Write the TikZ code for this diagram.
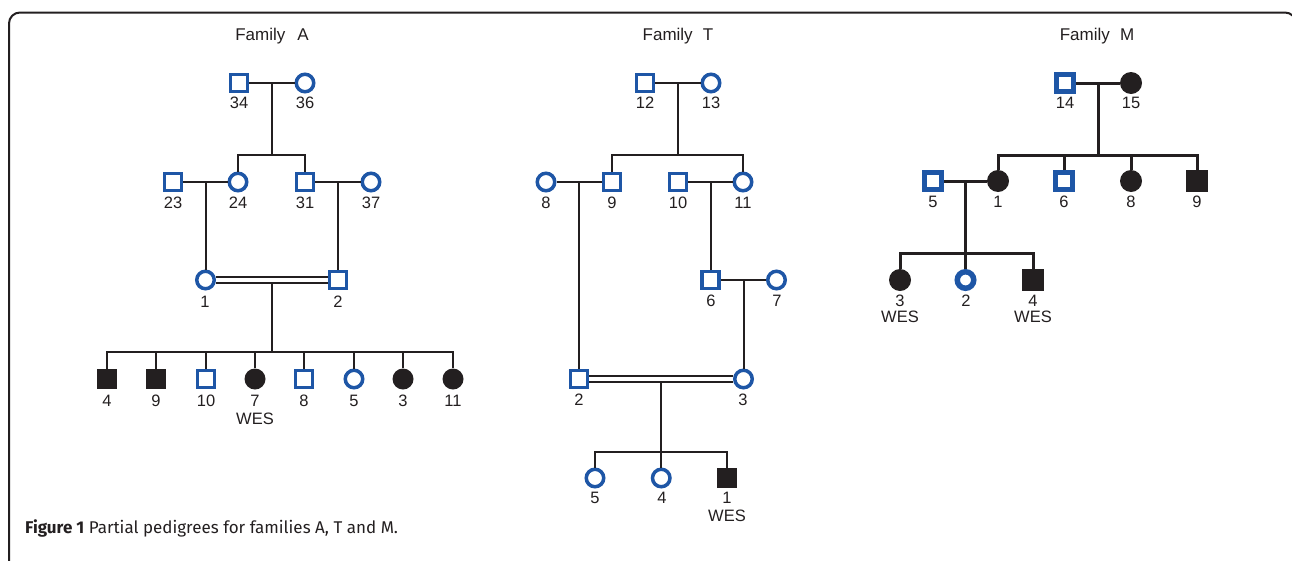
\documentclass[tikz,border=0pt]{standalone}
\usepackage{fontspec}
\setmainfont{Liberation Sans}
\newfontfamily\capfont{Fira Sans}
\usetikzlibrary{calc}
\definecolor{pblue}{RGB}{30,86,166}
\definecolor{pblack}{RGB}{35,31,32}
\begin{document}
\begin{tikzpicture}[x=1pt,y=-1pt,
 msq/.style={rectangle,draw=pblue,line width=3.5pt,minimum size=17pt,inner sep=0pt,fill=white},
 mci/.style={circle,draw=pblue,line width=3.5pt,minimum size=17.5pt,inner sep=0pt,fill=white},
 fsq/.style={rectangle,fill=pblack,minimum size=20.5pt,inner sep=0pt},
 fci/.style={circle,fill=pblack,minimum size=21pt,inner sep=0pt},
 Msq/.style={rectangle,draw=pblue,line width=5pt,minimum size=17pt,inner sep=0pt,fill=white},
 Mci/.style={circle,draw=pblue,line width=5.5pt,minimum size=16.5pt,inner sep=0pt,fill=white},
 Mfsq/.style={rectangle,fill=pblack,minimum size=21.5pt,inner sep=0pt},
 Mfci/.style={circle,fill=pblack,minimum size=22pt,inner sep=0pt},
 lab/.style={font=\fontsize{16.5}{18}\selectfont,text=pblack,inner sep=0pt},
 ttl/.style={font=\fontsize{17}{19}\selectfont,text=pblack,inner sep=0pt},
 con/.style={draw=pblack,line width=2pt},
 Mcon/.style={draw=pblack,line width=3pt},
 dbl/.style={draw=pblack,line width=2pt,double=white,double distance=4pt},
 frame/.style={draw=pblack,line width=2pt,rounded corners=11pt},
]
\useasboundingbox (0,0) rectangle (1292,560);
\clip (0,0) rectangle (1292,560);
\draw[frame] (9,12.5) rectangle (1296,620);

% ---------------- Family A ----------------
\node[ttl] (tA) at (272,36) {Family\hspace{0.7em}A};
\node[msq] (A34) at (239,83) {};
\node[mci] (A36) at (305,83) {};
\node[msq] (A23) at (173,182) {};
\node[mci] (A24) at (238,182) {};
\node[msq] (A31) at (305,182) {};
\node[mci] (A37) at (371,182) {};
\node[mci] (A1) at (205.5,280) {};
\node[msq] (A2) at (338,280) {};
\node[fsq] (A4) at (107,379) {};
\node[fsq] (A9) at (156,379) {};
\node[msq] (A10) at (206,379) {};
\node[fci] (A7) at (255,379) {};
\node[msq] (A8) at (304,379) {};
\node[mci] (A5) at (354,379) {};
\node[fci] (A3) at (403,379) {};
\node[fci] (A11) at (453,379) {};

\node[lab] (lA34) at (239,103) {34};
\node[lab] (lA36) at (305,103) {36};
\node[lab] (lA23) at (173,203) {23};
\node[lab] (lA24) at (238,203) {24};
\node[lab] (lA31) at (305,203) {31};
\node[lab] (lA37) at (371,203) {37};
\node[lab] (lA1) at (205,302) {1};
\node[lab] (lA2) at (338,302) {2};
\node[lab] (lA4) at (107,401) {4};
\node[lab] (lA9) at (156,401) {9};
\node[lab] (lA10) at (206,401) {10};
\node[lab] (lA7) at (255,401) {7};
\node[lab] (lA8) at (304,401) {8};
\node[lab] (lA5) at (354,401) {5};
\node[lab] (lA3) at (403,401) {3};
\node[lab] (lA11) at (453,401) {11};
\node[lab] (wA7) at (255,419) {WES};

\coordinate (mA1) at ($(A34)!0.5!(A36)$);
\coordinate (sA1) at ($(mA1)+(0,72)$);
\coordinate (mA2) at ($(A23)!0.5!(A24)$);
\coordinate (mA3) at ($(A31)!0.5!(A37)$);
\coordinate (mA4) at ($(A1)!0.5!(A2)+(0,3)$);
\coordinate (sA2) at ($(mA4)+(0,69)$);

\draw[con] (A34) -- (A36);
\draw[con] (mA1) -- (sA1);
\draw[con] (A24) |- (sA1) -| (A31);
\draw[con] (A23) -- (A24);
\draw[con] (A31) -- (A37);
\draw[con] (mA2) -- (mA2 |- A1.north);
\draw[con] (mA3) -- (mA3 |- A2.north);
\draw[dbl] (A1) -- (A2);
\draw[con] (mA4) -- (sA2);
\draw[con] (A4) |- (sA2) -| (A11);
\foreach \c in {A9,A10,A7,A8,A5,A3} \draw[con] (\c) -- (\c |- sA2);

% ---------------- Family T ----------------
\node[ttl] (tT) at (678,36) {Family\hspace{0.6em}T};
\node[msq] (T12) at (645,83) {};
\node[mci] (T13) at (711,83) {};
\node[mci] (T8) at (546,182) {};
\node[msq] (T9) at (612,182) {};
\node[msq] (T10) at (678,182) {};
\node[mci] (T11) at (743,182) {};
\node[msq] (T6) at (710.5,280) {};
\node[mci] (T7) at (776.5,280) {};
\node[msq] (T2) at (579,379) {};
\node[mci] (T3) at (743.5,379) {};
\node[mci] (T5) at (595,478) {};
\node[mci] (T4) at (661.25,478) {};
\node[fsq] (T1) at (727,478) {};

\node[lab] (lT12) at (645,103) {12};
\node[lab] (lT13) at (711,103) {13};
\node[lab] (lT8) at (546,203) {8};
\node[lab] (lT9) at (612,203) {9};
\node[lab] (lT10) at (678,203) {10};
\node[lab] (lT11) at (743,203) {11};
\node[lab] (lT6) at (711,301) {6};
\node[lab] (lT7) at (777,301) {7};
\node[lab] (lT2) at (579,400) {2};
\node[lab] (lT3) at (743,400) {3};
\node[lab] (lT5) at (595,498) {5};
\node[lab] (lT4) at (662,498) {4};
\node[lab] (lT1) at (727,498) {1};
\node[lab] (wT1) at (727,516) {WES};

\coordinate (mT1) at ($(T12)!0.5!(T13)$);
\coordinate (sT1) at ($(mT1)+(0,72)$);
\coordinate (mT2) at ($(T8)!0.5!(T9)$);
\coordinate (mT3) at ($(T10)!0.5!(T11)$);
\coordinate (mT4) at ($(T6)!0.5!(T7)$);
\coordinate (mT5) at ($(T2)!0.5!(T3)+(0,3)$);
\coordinate (sT2) at ($(mT5)+(0,70)$);

\draw[con] (T12) -- (T13);
\draw[con] (mT1) -- (sT1);
\draw[con] (T9) |- (sT1) -| (T11);
\draw[con] (T8) -- (T9);
\draw[con] (T10) -- (T11);
\draw[con] (mT2) -- (mT2 |- T2.north);
\draw[con] (mT3) -- (mT3 |- T6.north);
\draw[con] (T6) -- (T7);
\draw[con] (mT4) -- (mT4 |- T3.north);
\draw[dbl] (T2) -- (T3);
\draw[con] (mT5) -- (sT2);
\draw[con] (T5) |- (sT2) -| (T1);
\draw[con] (T4) -- (T4 |- sT2);

% ---------------- Family M ----------------
\node[ttl] (tM) at (1097,36) {Family\hspace{0.6em}M};
\node[Msq] (M14) at (1065,83) {};
\node[Mfci] (M15) at (1131,83) {};
\node[Msq] (M5) at (933,181) {};
\node[Mfci] (M1) at (998,181) {};
\node[Msq] (M6) at (1064,181) {};
\node[Mfci] (M8) at (1131,181) {};
\node[Mfsq] (M9) at (1197,181) {};
\node[Mfci] (M3) at (900,280) {};
\node[Mci] (M2) at (965.5,280) {};
\node[Mfsq] (M4) at (1033,280) {};

\node[lab] (lM14) at (1065,103) {14};
\node[lab] (lM15) at (1131,103) {15};
\node[lab] (lM5) at (933,202) {5};
\node[lab] (lM1) at (998,202) {1};
\node[lab] (lM6) at (1064,202) {6};
\node[lab] (lM8) at (1131,202) {8};
\node[lab] (lM9) at (1197,202) {9};
\node[lab] (lM3) at (900,301) {3};
\node[lab] (lM2) at (966,301) {2};
\node[lab] (lM4) at (1033,301) {4};
\node[lab] (wM3) at (900,317) {WES};
\node[lab] (wM4) at (1033,317) {WES};

\coordinate (mM1) at ($(M14)!0.5!(M15)$);
\coordinate (sM1) at ($(mM1)+(0,72)$);
\coordinate (mM2) at ($(M5)!0.5!(M1)$);
\coordinate (sM2) at ($(mM2)+(0,72)$);

\draw[Mcon] (M14) -- (M15);
\draw[Mcon] (mM1) -- (sM1);
\draw[Mcon] (M1) |- (sM1) -| (M9);
\draw[Mcon] (M6) -- (M6 |- sM1);
\draw[Mcon] (M8) -- (M8 |- sM1);
\draw[Mcon] (M5) -- (M1);
\draw[Mcon] (mM2) -- (sM2);
\draw[Mcon] (M3) |- (sM2) -| (M4);
\draw[Mcon] (M2) -- (M2 |- sM2);

% ---------------- Caption ----------------
\node[anchor=west,inner sep=0pt,text=pblack,font=\capfont\fontsize{17}{20}\selectfont] (cap) at (25,528) {\textbf{Figure 1} Partial pedigrees for families A, T and M.};
\end{tikzpicture}
\end{document}
